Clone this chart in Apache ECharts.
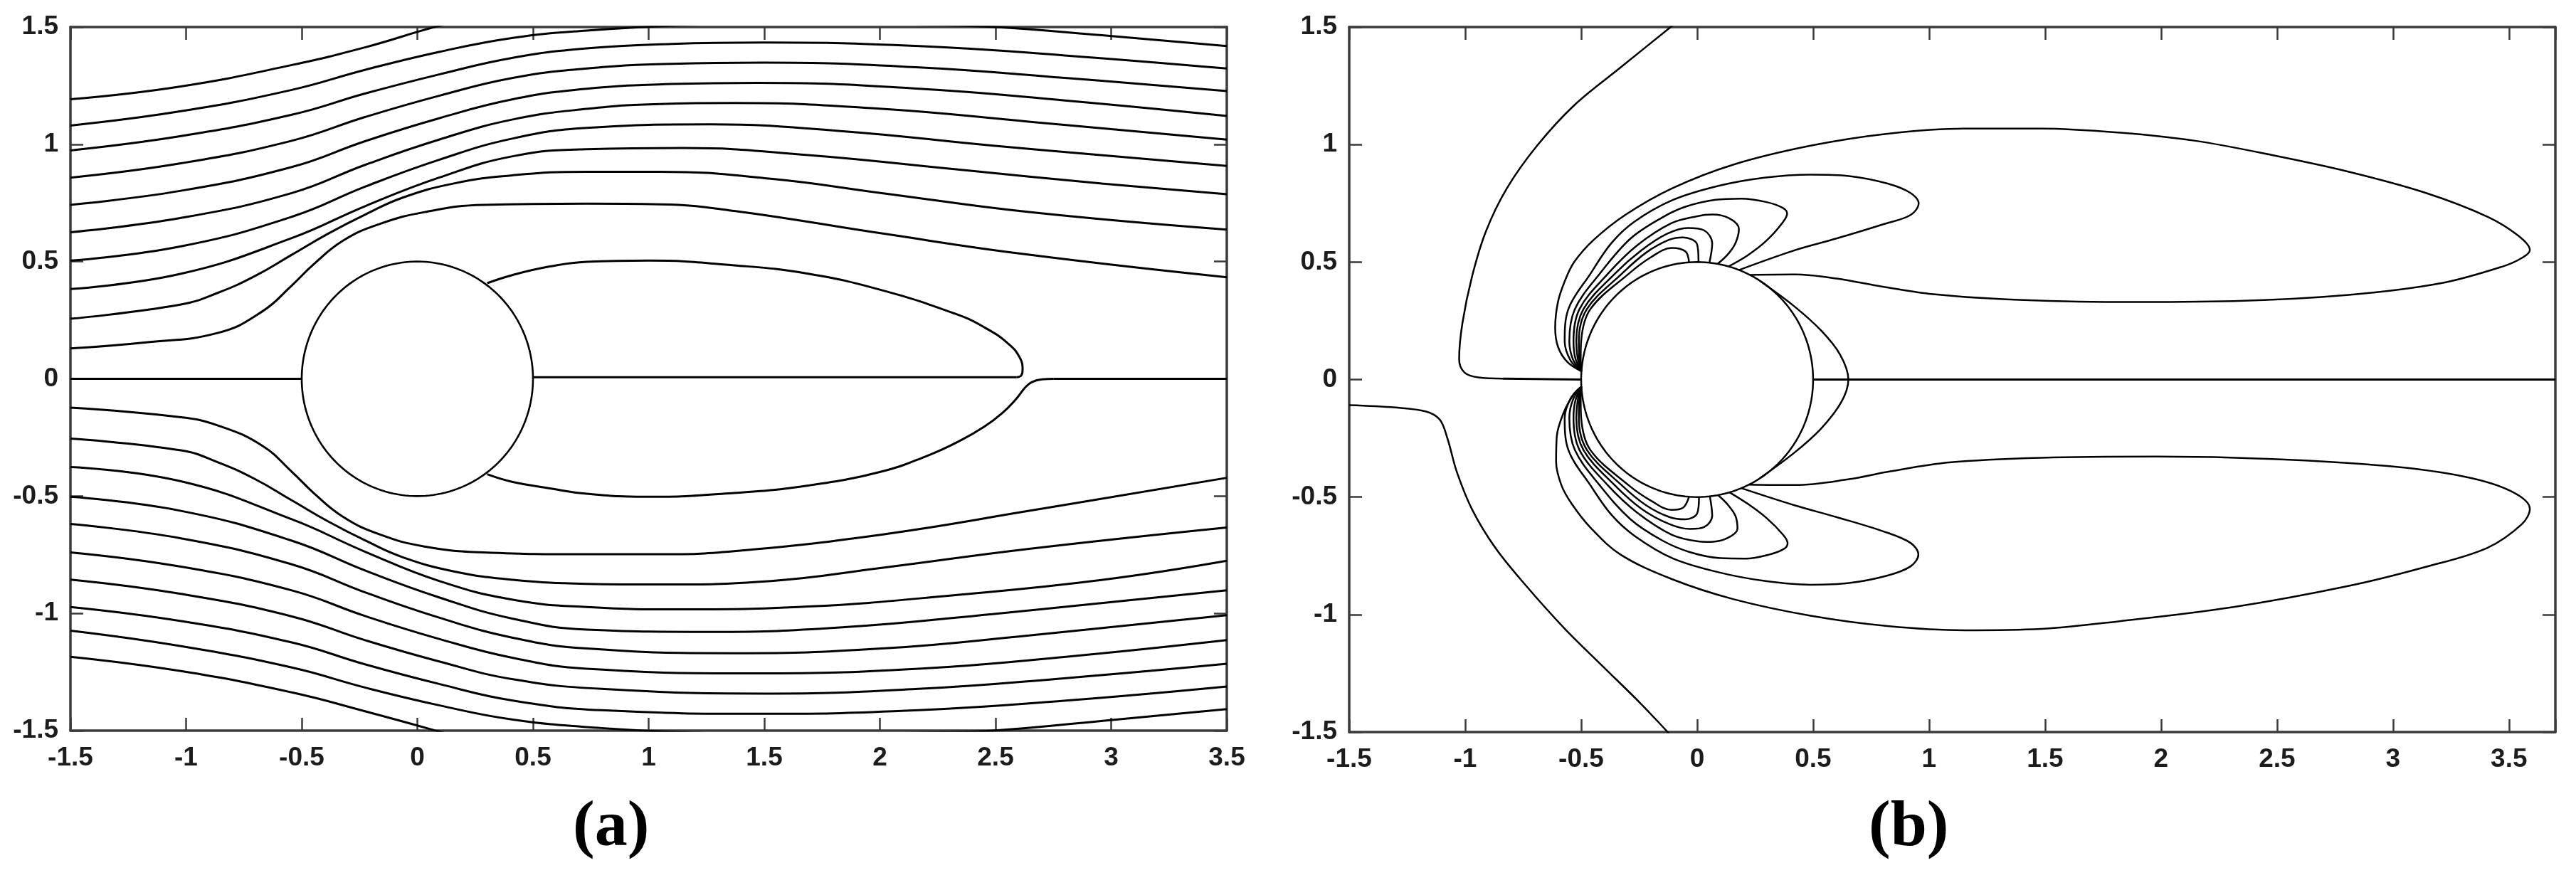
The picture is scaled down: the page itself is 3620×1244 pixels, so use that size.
<!DOCTYPE html>
<html><head><meta charset="utf-8">
<script src="https://cdn.jsdelivr.net/npm/echarts@6/dist/echarts.min.js"></script>
<style>html,body{margin:0;padding:0;background:#fff}#c{width:3620px;height:1244px}</style>
</head><body><div id="c"></div><script>
// ---------- tick labels ----------
const xTickLabels = ['-1.5','-1','-0.5','0','0.5','1','1.5','2','2.5','3','3.5'];
const yTickLabels = ['-1.5','-1','-0.5','0','0.5','1','1.5'];
const cylinderRadius = 0.5;

// ---------- panel (a): streamlines ----------
const aU1 = [[-1.5,1.192],[-1.022,1.247],[-0.543,1.338],[-0.224,1.414],[0.094,1.505],[0.35,1.56]];
const aU2 = [[-1.5,1.080],[-1.022,1.141],[-0.543,1.232],[-0.224,1.318],[0.094,1.394],[0.413,1.454],[0.732,1.485],[1.2,1.51],[1.69,1.52],[2.17,1.51],[2.50,1.50],[2.96,1.465],[3.5,1.419]];
const aU3 = [[-1.5,0.974],[-1.022,1.035],[-0.543,1.126],[-0.224,1.217],[0.094,1.298],[0.413,1.369],[0.732,1.409],[1.10,1.428],[1.50,1.434],[2.17,1.419],[2.80,1.379],[3.5,1.323]];
const aU4 = [[-1.5,0.858],[-1.022,0.919],[-0.543,1.015],[-0.224,1.117],[0.094,1.207],[0.413,1.283],[0.732,1.323],[1.10,1.343],[1.50,1.348],[2.17,1.328],[2.80,1.283],[3.5,1.227]];
const aU5 = [[-1.5,0.742],[-1.022,0.802],[-0.543,0.903],[-0.224,1.014],[0.094,1.111],[0.413,1.192],[0.732,1.237],[1.10,1.257],[1.47,1.262],[2.17,1.237],[2.80,1.187],[3.5,1.121]];
const aU6 = [[-1.5,0.625],[-1.022,0.686],[-0.543,0.792],[-0.224,0.913],[0.094,1.020],[0.413,1.106],[0.732,1.151],[1.05,1.172],[1.37,1.176],[2.01,1.151],[2.65,1.096],[3.5,1.020]];
const aU7 = [[-1.5,0.504],[-1.022,0.565],[-0.543,0.691],[-0.224,0.820],[0.094,0.934],[0.413,1.025],[0.732,1.070],[1.27,1.085],[1.85,1.055],[2.49,0.994],[3.5,0.908]];
const aU8 = [[-1.5,0.383],[-1.022,0.448],[-0.543,0.600],[-0.224,0.737],[0.094,0.858],[0.413,0.949],[0.732,0.979],[1.15,0.984],[1.69,0.954],[2.33,0.893],[2.96,0.833],[3.5,0.787]];
const aU9 = [[-1.5,0.256],[-1.022,0.317],[-0.862,0.367],[-0.703,0.438],[-0.543,0.529],[-0.384,0.620],[-0.224,0.701],[-0.065,0.772],[0.158,0.833],[0.413,0.868],[0.732,0.883],[1.051,0.883],[1.529,0.853],[2.008,0.792],[2.645,0.711],[3.5,0.636]];
const aU10 = [[-1.5,0.130],[-1.181,0.155],[-0.862,0.196],[-0.671,0.287],[-0.543,0.398],[-0.448,0.489],[-0.320,0.590],[-0.161,0.661],[0.031,0.711],[0.286,0.742],[0.732,0.747],[1.051,0.744],[1.370,0.716],[2.008,0.620],[2.645,0.529],[3.5,0.433]];

const aL10 = [[-1.5,-0.123],[-1.022,-0.164],[-0.862,-0.199],[-0.671,-0.285],[-0.543,-0.396],[-0.448,-0.487],[-0.320,-0.589],[-0.161,-0.664],[0.031,-0.715],[0.286,-0.740],[0.732,-0.748],[1.051,-0.748],[1.370,-0.735],[2.008,-0.664],[2.645,-0.563],[3.5,-0.422]];
const aL9 = [[-1.5,-0.255],[-1.022,-0.305],[-0.862,-0.356],[-0.703,-0.427],[-0.543,-0.518],[-0.384,-0.609],[-0.224,-0.690],[-0.065,-0.760],[0.158,-0.821],[0.413,-0.857],[0.732,-0.874],[1.051,-0.877],[1.529,-0.862],[2.008,-0.806],[2.645,-0.725],[3.5,-0.634]];
const aL8 = [[-1.5,-0.376],[-1.022,-0.437],[-0.543,-0.599],[-0.224,-0.738],[0.094,-0.862],[0.413,-0.942],[0.732,-0.973],[1.147,-0.983],[1.689,-0.971],[2.327,-0.922],[2.964,-0.857],[3.5,-0.776]];
const aL7 = [[-1.5,-0.503],[-1.022,-0.563],[-0.543,-0.690],[-0.224,-0.818],[0.094,-0.932],[0.413,-1.023],[0.732,-1.069],[1.274,-1.079],[1.848,-1.059],[2.486,-1.003],[3.5,-0.902]];
const aL6 = [[-1.5,-0.619],[-1.022,-0.680],[-0.543,-0.791],[-0.224,-0.911],[0.094,-1.018],[0.413,-1.104],[0.732,-1.150],[1.370,-1.170],[2.008,-1.150],[2.645,-1.094],[3.5,-1.008]];
const aL5 = [[-1.5,-0.740],[-1.022,-0.801],[-0.543,-0.902],[-0.224,-1.012],[0.094,-1.109],[0.413,-1.190],[0.732,-1.236],[1.466,-1.256],[2.167,-1.236],[2.805,-1.185],[3.5,-1.114]];
const aL4 = [[-1.5,-0.856],[-1.022,-0.917],[-0.543,-1.013],[-0.224,-1.115],[0.094,-1.205],[0.413,-1.281],[0.796,-1.322],[1.497,-1.342],[2.167,-1.322],[2.805,-1.276],[3.5,-1.215]];
const aL3 = [[-1.5,-0.973],[-1.022,-1.033],[-0.543,-1.124],[-0.224,-1.218],[0.094,-1.301],[0.413,-1.372],[0.796,-1.413],[1.497,-1.428],[2.167,-1.413],[2.805,-1.372],[3.5,-1.312]];
const aL2 = [[-1.5,-1.074],[-1.022,-1.140],[-0.543,-1.231],[-0.224,-1.317],[0.094,-1.392],[0.413,-1.453],[0.796,-1.489],[1.210,-1.509],[1.689,-1.519],[2.167,-1.509],[2.499,-1.499],[2.964,-1.458],[3.5,-1.408]];
const aL1 = [[-1.5,-1.185],[-1.022,-1.246],[-0.543,-1.337],[-0.224,-1.418],[0.094,-1.504],[0.286,-1.559]];

const aAxisLeft = [[-1.5,0],[-0.5,0]];
const aBubbleUpper = [[0.302,0.408],[0.413,0.443],[0.573,0.479],[0.732,0.499],[1.0,0.504],[1.37,0.484],[1.69,0.448],[2.008,0.378],[2.327,0.277],[2.451,0.220],[2.555,0.150],[2.605,0.090],[2.617,0.038],[2.611,0.014],[2.59,0.007]];
const aAxisInner = [[0.5,0.007],[2.59,0.007]];
const aBubbleLower = [[0.302,-0.407],[0.413,-0.440],[0.573,-0.467],[0.732,-0.490],[0.987,-0.503],[1.37,-0.487],[1.69,-0.455],[2.008,-0.395],[2.20,-0.330],[2.35,-0.262],[2.45,-0.205],[2.53,-0.145],[2.59,-0.085],[2.63,-0.035],[2.657,-0.014],[2.70,-0.002],[2.75,0.0]];
const aAxisRight = [[2.75,0],[3.5,0]];

// ---------- panel (b): vorticity contours ----------
const bZeroUpper = [[-0.076,1.53],[-0.114,1.5],[-0.33,1.328],[-0.53,1.167],[-0.69,0.995],[-0.82,0.814],[-0.91,0.632],[-0.97,0.440],[-1.012,0.239],[-1.026,0.086],[-1.003,0.030],[-0.943,0.009],[-0.837,0.004]];
const bAxisLeft = [[-0.837,0.004],[-0.5,0.0]];
const bZeroLower = [[-1.5,-0.109],[-1.301,-0.119],[-1.168,-0.136],[-1.109,-0.171],[-1.076,-0.252],[-1.036,-0.393],[-0.969,-0.555],[-0.870,-0.716],[-0.737,-0.878],[-0.572,-1.059],[-0.406,-1.221],[-0.240,-1.382],[-0.124,-1.503],[-0.098,-1.53]];
const bAxisRight = [[0.5,0],[3.7,0]];
const bCrescent = [[0.27,0.42],[0.417,0.313],[0.534,0.209],[0.617,0.105],[0.652,0.0],[0.622,-0.095],[0.534,-0.209],[0.417,-0.313],[0.27,-0.42]];

const bC0U = [[-0.499,0.035],[-0.56,0.075],[-0.600,0.14],[-0.612,0.22],[-0.600,0.33],[-0.570,0.42],[-0.530,0.50],[-0.445,0.595],[-0.306,0.703],[-0.107,0.814],[0.158,0.915],[0.489,0.995],[0.821,1.046],[1.153,1.068],[1.484,1.068],[1.816,1.051],[2.147,1.016],[2.479,0.955],[2.810,0.884],[3.142,0.794],[3.407,0.693],[3.540,0.612],[3.590,0.551],[3.56,0.52],[3.473,0.481],[3.208,0.410],[2.810,0.360],[2.313,0.334],[1.816,0.330],[1.318,0.342],[1.0,0.365],[0.8,0.395],[0.6,0.43],[0.42,0.447],[0.229,0.445]];
const bC1U = [[-0.499,0.035],[-0.545,0.08],[-0.571,0.163],[-0.555,0.30],[-0.46,0.45],[-0.37,0.58],[-0.273,0.67],[-0.107,0.763],[0.092,0.824],[0.290,0.859],[0.489,0.872],[0.655,0.866],[0.821,0.834],[0.920,0.794],[0.955,0.75],[0.92,0.70],[0.80,0.66],[0.6,0.60],[0.42,0.55],[0.18,0.466]];
const bC2U = [[-0.499,0.035],[-0.535,0.085],[-0.551,0.163],[-0.527,0.30],[-0.42,0.45],[-0.287,0.60],[-0.15,0.69],[-0.052,0.735],[0.08,0.765],[0.19,0.77],[0.30,0.755],[0.37,0.73],[0.388,0.707],[0.37,0.67],[0.30,0.592],[0.22,0.53],[0.135,0.481]];
const bC3U = [[-0.499,0.035],[-0.525,0.09],[-0.533,0.163],[-0.507,0.30],[-0.385,0.45],[-0.26,0.57],[-0.112,0.665],[0.0,0.695],[0.065,0.702],[0.14,0.685],[0.18,0.64],[0.165,0.58],[0.13,0.53],[0.088,0.492]];
const bC4U = [[-0.499,0.035],[-0.515,0.09],[-0.521,0.163],[-0.490,0.30],[-0.355,0.45],[-0.24,0.55],[-0.13,0.62],[-0.04,0.645],[0.03,0.635],[0.065,0.58],[0.053,0.497]];
const bC5U = [[-0.499,0.035],[-0.508,0.09],[-0.510,0.163],[-0.475,0.30],[-0.325,0.45],[-0.22,0.54],[-0.12,0.595],[-0.06,0.605],[0.0,0.575],[0.006,0.50]];
const bC6U = [[-0.499,0.035],[-0.502,0.09],[-0.500,0.163],[-0.46,0.30],[-0.295,0.45],[-0.2,0.52],[-0.11,0.56],[-0.05,0.545],[-0.035,0.499]];

const bC0L = [[-0.499,-0.03],[-0.53,-0.06],[-0.575,-0.14],[-0.605,-0.242],[-0.608,-0.35],[-0.585,-0.45],[-0.54,-0.53],[-0.46,-0.63],[-0.33,-0.745],[-0.107,-0.850],[0.158,-0.935],[0.489,-1.005],[0.821,-1.049],[1.153,-1.067],[1.484,-1.061],[1.816,-1.029],[2.313,-0.968],[2.810,-0.878],[3.142,-0.797],[3.407,-0.716],[3.556,-0.615],[3.59,-0.55],[3.507,-0.474],[3.308,-0.413],[2.976,-0.368],[2.479,-0.338],[1.981,-0.328],[1.484,-0.333],[1.086,-0.353],[0.821,-0.393],[0.655,-0.424],[0.423,-0.449],[0.224,-0.447]];
const bC1L = [[-0.499,-0.03],[-0.545,-0.08],[-0.571,-0.163],[-0.555,-0.30],[-0.46,-0.45],[-0.37,-0.575],[-0.27,-0.665],[-0.107,-0.76],[0.092,-0.82],[0.290,-0.857],[0.489,-0.873],[0.655,-0.866],[0.821,-0.834],[0.920,-0.795],[0.954,-0.745],[0.92,-0.695],[0.80,-0.645],[0.6,-0.585],[0.42,-0.535],[0.19,-0.462]];
const bC2L = [[-0.499,-0.03],[-0.535,-0.085],[-0.551,-0.163],[-0.527,-0.30],[-0.42,-0.45],[-0.287,-0.595],[-0.15,-0.685],[-0.03,-0.735],[0.1,-0.76],[0.208,-0.762],[0.31,-0.745],[0.375,-0.72],[0.39,-0.696],[0.37,-0.66],[0.30,-0.59],[0.22,-0.53],[0.14,-0.48]];
const bC3L = [[-0.499,-0.03],[-0.525,-0.09],[-0.533,-0.163],[-0.507,-0.30],[-0.385,-0.45],[-0.26,-0.565],[-0.11,-0.66],[0.0,-0.688],[0.058,-0.691],[0.13,-0.675],[0.174,-0.635],[0.165,-0.58],[0.13,-0.53],[0.09,-0.492]];
const bC4L = [[-0.499,-0.03],[-0.515,-0.09],[-0.521,-0.163],[-0.490,-0.30],[-0.355,-0.45],[-0.24,-0.55],[-0.12,-0.615],[-0.03,-0.636],[0.03,-0.628],[0.065,-0.58],[0.055,-0.497]];
const bC5L = [[-0.499,-0.03],[-0.508,-0.09],[-0.510,-0.163],[-0.475,-0.30],[-0.325,-0.45],[-0.22,-0.535],[-0.12,-0.585],[-0.05,-0.595],[0.0,-0.57],[0.008,-0.50]];
const bC6L = [[-0.499,-0.03],[-0.502,-0.09],[-0.500,-0.163],[-0.46,-0.30],[-0.295,-0.45],[-0.2,-0.515],[-0.11,-0.555],[-0.06,-0.545],[-0.035,-0.499]];

// ---------- build ----------
const cylinder = [];
for (let d = 0; d <= 360; d += 2) {
  const t = d * Math.PI / 180;
  cylinder.push([cylinderRadius * Math.cos(t), cylinderRadius * Math.sin(t)]);
}

const AX = '#3b3b3b';
const labelBase = {fontSize: 37, fontWeight: 'bold', fontFamily: '"Liberation Sans", Arial, sans-serif', color: '#1c1c1c'};
function fmt(list) {
  return function (v) {
    const s = String(Math.round(v * 100) / 100);
    return list.indexOf(s === '-0' ? '0' : s) >= 0 ? s : '';
  };
}
function xAx(gi, max, pos, showLabel) {
  return {gridIndex: gi, type: 'value', min: -1.5, max: max, interval: 0.5, position: pos,
    axisLine: {show: true, onZero: false, lineStyle: {color: AX, width: 3.5}},
    axisTick: {show: true, inside: true, length: 18, lineStyle: {color: AX, width: 2.5}},
    axisLabel: Object.assign({show: showLabel, margin: 20, interval: 0, showMinLabel: true, showMaxLabel: true, formatter: fmt(xTickLabels)}, labelBase),
    splitLine: {show: false}};
}
function yAx(gi, pos, showLabel) {
  return {gridIndex: gi, type: 'value', min: -1.5, max: 1.5, interval: 0.5, position: pos,
    axisLine: {show: true, onZero: false, lineStyle: {color: AX, width: 3.5}},
    axisTick: {show: true, inside: true, length: 18, lineStyle: {color: AX, width: 2.5}},
    axisLabel: Object.assign({show: showLabel, margin: 17, interval: 0, showMinLabel: true, showMaxLabel: true, formatter: fmt(yTickLabels)}, labelBase),
    splitLine: {show: false}};
}
function ln(data, p, w, smooth) {
  return {type: 'line', xAxisIndex: p * 2, yAxisIndex: p * 2, data: data, symbol: 'none', showSymbol: false,
    smooth: smooth === undefined ? 0.45 : smooth, clip: true, silent: true, animation: false,
    lineStyle: {color: '#000', width: w}};
}
const series = [];
[aU1,aU2,aU3,aU4,aU5,aU6,aU7,aU8,aU9,aU10,aL1,aL2,aL3,aL4,aL5,aL6,aL7,aL8,aL9,aL10,aBubbleUpper,aBubbleLower]
  .forEach(d => series.push(ln(d, 0, 3)));
[aAxisLeft, aAxisInner, aAxisRight].forEach(d => series.push(ln(d, 0, 3, false)));
series.push(ln(cylinder, 0, 2.6, false));
[bZeroUpper,bZeroLower,bCrescent,bC0U,bC1U,bC2U,bC3U,bC4U,bC5U,bC6U,bC0L,bC1L,bC2L,bC3L,bC4L,bC5L,bC6L]
  .forEach(d => series.push(ln(d, 1, 2.5, 0.35)));
[bAxisLeft, bAxisRight].forEach(d => series.push(ln(d, 1, 3, false)));
series.push(ln(cylinder, 1, 2.5, false));

const chart = echarts.init(document.getElementById('c'), null, {renderer: 'canvas'});
chart.setOption({
  backgroundColor: '#fff',
  animation: false,
  grid: [
    {left: 99, top: 38, width: 1625, height: 989, containLabel: false, outerBoundsMode: 'none'},
    {left: 1896, top: 38, width: 1695, height: 991, containLabel: false, outerBoundsMode: 'none'}
  ],
  xAxis: [xAx(0, 3.5, 'bottom', true), xAx(0, 3.5, 'top', false), xAx(1, 3.7, 'bottom', true), xAx(1, 3.7, 'top', false)],
  yAxis: [yAx(0, 'left', true), yAx(0, 'right', false), yAx(1, 'left', true), yAx(1, 'right', false)],
  series: series,
  graphic: [
    {type: 'text', left: 805, top: 1118, style: {text: '(a)', font: 'bold 92px "Liberation Serif", "Times New Roman", serif', fill: '#000'}},
    {type: 'text', left: 2626, top: 1118, style: {text: '(b)', font: 'bold 92px "Liberation Serif", "Times New Roman", serif', fill: '#000'}}
  ]
});
</script></body></html>
